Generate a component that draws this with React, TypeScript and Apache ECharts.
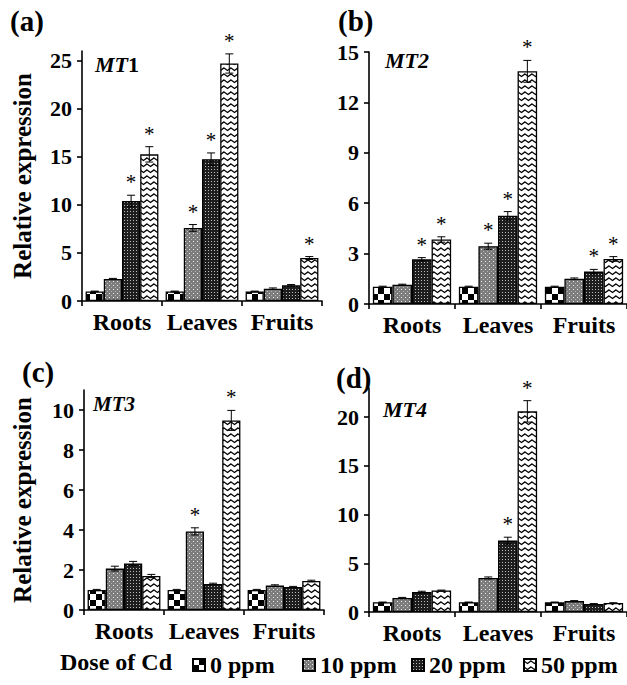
import React, { useEffect, useRef } from 'react';
import * as echarts from 'echarts';

const categories = ['Roots', 'Leaves', 'Fruits'];
const doses = ['0 ppm', '10 ppm', '20 ppm', '50 ppm'];

// MT1 (a)
const mt1Mean = [[1.0, 1.0, 1.0], [2.3, 7.6, 1.28], [10.4, 14.75, 1.63], [15.25, 24.7, 4.47]];
const mt1Err = [[0.03, 0.03, 0.03], [0.05, 0.35, 0.08], [0.6, 0.65, 0.08], [0.8, 1.0, 0.15]];
const mt1Sig = [[0, 0, 0], [0, 1, 0], [1, 1, 0], [1, 1, 1]];
// MT2 (b)
const mt2Mean = [[1.03, 1.03, 1.03], [1.15, 3.44, 1.5], [2.66, 5.25, 1.93], [3.84, 13.85, 2.68]];
const mt2Err = [[0.03, 0.03, 0.03], [0.03, 0.18, 0.05], [0.1, 0.25, 0.13], [0.16, 0.65, 0.14]];
const mt2Sig = [[0, 0, 0], [0, 1, 0], [1, 1, 1], [1, 1, 1]];
// MT3 (c)
const mt3Mean = [[1.0, 1.0, 1.0], [2.07, 3.93, 1.22], [2.33, 1.3, 1.15], [1.7, 9.48, 1.45]];
const mt3Err = [[0.03, 0.03, 0.03], [0.12, 0.18, 0.04], [0.1, 0.04, 0.03], [0.08, 0.5, 0.04]];
const mt3Sig = [[0, 0, 0], [0, 1, 0], [0, 0, 0], [0, 1, 0]];
// MT4 (d)
const mt4Mean = [[1.0, 1.0, 1.0], [1.45, 3.5, 1.12], [2.05, 7.33, 0.83], [2.2, 20.6, 0.92]];
const mt4Err = [[0.02, 0.02, 0.02], [0.05, 0.1, 0.05], [0.08, 0.35, 0.03], [0.05, 1.1, 0.03]];
const mt4Sig = [[0, 0, 0], [0, 0, 0], [0, 1, 0], [0, 1, 0]];

const yMax = [26, 15, 11, 23];
const yTicks = [[0, 5, 10, 15, 20, 25], [0, 3, 6, 9, 12, 15], [0, 2, 4, 6, 8, 10], [0, 5, 10, 15, 20]];
const panelLetters = ['(a)', '(b)', '(c)', '(d)'];
const geneNames = ['MT', 'MT2', 'MT3', 'MT4'];
const legendTitle = 'Dose of Cd';

const FONT = 'Liberation Serif';
const GAP = 0.09;

function makeCanvas(w: number, h: number, draw: (c: CanvasRenderingContext2D) => void) {
  const cv = document.createElement('canvas');
  cv.width = w;
  cv.height = h;
  const ctx = cv.getContext('2d')!;
  draw(ctx);
  return cv;
}

function makePatterns() {
  const checker = makeCanvas(12, 12, (c) => {
    c.fillStyle = '#fff';
    c.fillRect(0, 0, 12, 12);
    c.fillStyle = '#000';
    c.fillRect(0, 6, 6, 6);
    c.fillRect(6, 0, 6, 6);
  });
  const dots = makeCanvas(4, 4, (c) => {
    c.fillStyle = '#7c7c7c';
    c.fillRect(0, 0, 4, 4);
    c.fillStyle = '#ececec';
    c.fillRect(1, 1, 1, 1);
    c.fillStyle = '#b4b4b4';
    c.fillRect(3, 3, 1, 1);
  });
  const dense = makeCanvas(3, 3, (c) => {
    c.fillStyle = '#1e1e1e';
    c.fillRect(0, 0, 3, 3);
    c.fillStyle = '#bdbdbd';
    c.fillRect(1, 1, 1, 1);
  });
  const zigzag = makeCanvas(7, 6, (c) => {
    c.fillStyle = '#fff';
    c.fillRect(0, 0, 7, 6);
    c.strokeStyle = '#000';
    c.lineWidth = 1.2;
    c.beginPath();
    c.moveTo(-0.5, 1.5);
    c.lineTo(3.5, 4.5);
    c.lineTo(7.5, 1.5);
    c.stroke();
  });
  return [checker, dots, dense, zigzag];
}

const panels = [
  { mean: mt1Mean, err: mt1Err, sig: mt1Sig },
  { mean: mt2Mean, err: mt2Err, sig: mt2Sig },
  { mean: mt3Mean, err: mt3Err, sig: mt3Sig },
  { mean: mt4Mean, err: mt4Err, sig: mt4Sig },
];

const grids = [
  { left: 82, top: 51, width: 240, height: 250 },
  { left: 369, top: 52, width: 259, height: 252 },
  { left: 84, top: 390, width: 240, height: 220 },
  { left: 369, top: 388, width: 259, height: 224 },
];

const legendIconX = [192, 302, 411, 523];

function txt(text: string, left: number, top: number, size: number, italic = false) {
  return {
    type: 'text',
    left,
    top,
    style: {
      text,
      fontFamily: FONT,
      fontWeight: 'bold',
      fontStyle: italic ? 'italic' : 'normal',
      fontSize: size,
      fill: '#000',
    },
  };
}

export default function App() {
  const ref = useRef<HTMLDivElement>(null);
  useEffect(() => {
    if (!ref.current) return;
    const chart = echarts.init(ref.current, undefined, { renderer: 'svg' });
    const pats = makePatterns();

    const series: any[] = [];
    panels.forEach((p, pi) => {
      doses.forEach((d, di) => {
        series.push({
          type: 'bar',
          name: d,
          xAxisIndex: pi,
          yAxisIndex: pi,
          data: p.mean[di],
          barGap: '0%',
          barCategoryGap: GAP * 100 + '%',
          itemStyle: {
            color: { image: pats[di], repeat: 'repeat' },
            borderColor: '#000',
            borderWidth: 1.3,
          },
          emphasis: { disabled: true },
          z: 2,
        });
      });
      doses.forEach((d, di) => {
        series.push({
          type: 'custom',
          name: 'err-' + pi + '-' + di,
          xAxisIndex: pi,
          yAxisIndex: pi,
          z: 5,
          silent: true,
          itemStyle: { color: '#000' },
          data: p.mean[di].map((v, ci) => [ci, v, p.err[di][ci], p.sig[di][ci]]),
          renderItem: (params: any, api: any) => {
            const ci = api.value(0);
            const v = api.value(1);
            const e = api.value(2);
            const s = api.value(3);
            const band = api.size([1, 0])[0];
            const barW = (band * (1 - GAP)) / 4;
            const c0 = api.coord([ci, 0]);
            const x = c0[0] - 2 * barW + (di + 0.5) * barW;
            const yTop = api.coord([ci, v + e])[1];
            const yBot = api.coord([ci, v - e])[1];
            const cap = 4;
            const children: any[] = [
              { type: 'line', shape: { x1: x, y1: yTop, x2: x, y2: yBot }, style: { stroke: '#000', lineWidth: 1 } },
              { type: 'line', shape: { x1: x - cap, y1: yTop, x2: x + cap, y2: yTop }, style: { stroke: '#000', lineWidth: 1 } },
              { type: 'line', shape: { x1: x - cap, y1: yBot, x2: x + cap, y2: yBot }, style: { stroke: '#000', lineWidth: 1 } },
            ];
            if (s) {
              children.push({
                type: 'text',
                style: {
                  text: '*',
                  x: x,
                  y: yTop - 13,
                  align: 'center',
                  verticalAlign: 'middle',
                  fontFamily: FONT,
                  fontSize: 21,
                  fill: '#000',
                },
              });
            }
            return { type: 'group', children };
          },
        });
      });
    });

    const axisFont = { fontFamily: FONT, fontWeight: 'bold', color: '#000' };

    const option: any = {
      animation: false,
      backgroundColor: '#fff',
      grid: grids.map((g) => ({ ...g, containLabel: false })),
      xAxis: grids.map((g, i) => ({
        type: 'category',
        gridIndex: i,
        data: categories,
        axisLine: { lineStyle: { color: '#000', width: 1.6 } },
        axisTick: { show: true, inside: false, length: 5, lineStyle: { color: '#000', width: 1.6 } },
        axisLabel: { ...axisFont, fontSize: 24, margin: 9, interval: 0 },
        splitLine: { show: false },
      })),
      yAxis: grids.map((g, i) => ({
        type: 'value',
        gridIndex: i,
        min: 0,
        max: yMax[i],
        axisLine: { show: true, lineStyle: { color: '#000', width: 1.6 } },
        axisTick: { show: true, inside: false, length: 5, lineStyle: { color: '#000', width: 1.6 }, customValues: yTicks[i] },
        axisLabel: { ...axisFont, fontSize: 22, margin: 10, customValues: yTicks[i] },
        splitLine: { show: false },
        name: i === 0 || i === 2 ? 'Relative expression' : '',
        nameLocation: 'middle',
        nameRotate: 90,
        nameGap: i === 0 ? 47 : 49,
        nameTextStyle: { ...axisFont, fontSize: 25 },
      })),
      legend: doses.map((d, i) => ({
        data: [d],
        left: legendIconX[i],
        top: 653,
        padding: 0,
        itemWidth: 12,
        itemHeight: 12,
        icon: 'rect',
        selectedMode: false,
        textStyle: { ...axisFont, fontSize: 24 },
      })),
      graphic: [
        txt(panelLetters[0], 10, 6, 29),
        txt(panelLetters[1], 338, 6, 29),
        txt(panelLetters[2], 22, 357, 29),
        txt(panelLetters[3], 336, 363, 29),
        {
          type: 'text', left: 95, top: 53,
          style: {
            text: '{i|' + geneNames[0] + '}{b|1}',
            rich: {
              i: { fontFamily: FONT, fontStyle: 'italic', fontWeight: 'bold', fontSize: 22, fill: '#000' },
              b: { fontFamily: FONT, fontWeight: 'bold', fontSize: 22, fill: '#000' },
            },
          },
        },
        txt(geneNames[1], 385, 49, 22, true),
        txt(geneNames[2], 93, 393, 21, true),
        txt(geneNames[3], 383, 398, 22, true),
        txt(legendTitle, 60, 650, 24),
      ],
      series,
    };
    chart.setOption(option);
    return () => chart.dispose();
  }, []);
  return <div ref={ref} style={{ position: 'absolute', left: 0, top: 0, width: 627, height: 685 }} />;
}
